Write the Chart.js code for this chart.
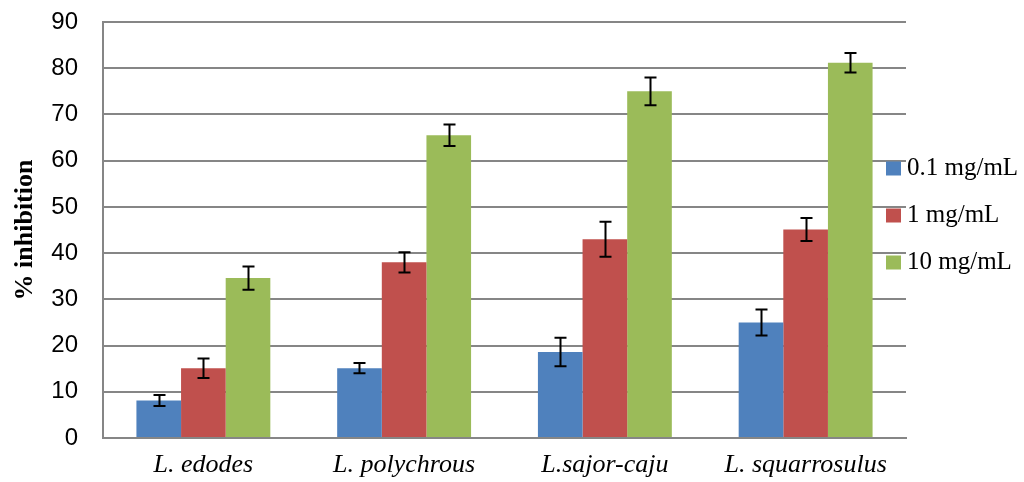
<!DOCTYPE html>
<html>
<head>
<meta charset="utf-8">
<script src="https://cdn.jsdelivr.net/npm/chart.js@4.4.1/dist/chart.umd.min.js"></script>
<style>
  html, body { margin: 0; padding: 0; background: #fff; }
  #wrap { width: 1024px; height: 482px; position: relative; }
</style>
</head>
<body>
<div id="wrap"><canvas id="c" width="1024" height="482"></canvas></div>
<script>
// Species tested
const categories = ['L. edodes', 'L. polychrous', 'L.sajor-caju', 'L. squarrosulus'];

// Mean % inhibition at each extract concentration
const series01 = [8.1, 15.1, 18.6, 25.0];
const series1  = [15.1, 38.0, 43.0, 45.1];
const series10 = [34.6, 65.5, 75.0, 81.2];

// Standard deviations (error bars)
const err01 = [1.2, 1.1, 3.1, 2.8];
const err1  = [2.1, 2.2, 3.8, 2.5];
const err10 = [2.5, 2.3, 3.0, 2.1];

const seriesLabels = ['0.1 mg/mL', '1 mg/mL', '10 mg/mL'];
const seriesColors = ['#4F81BD', '#C0504D', '#9BBB59'];
const yTicks = [0, 10, 20, 30, 40, 50, 60, 70, 80, 90];

const values = [series01, series1, series10];
const errors = [err01, err1, err10];

const GRID = '#868686';
const SERIF = "'Liberation Serif', 'Times New Roman', serif";
const SANS = "'Liberation Sans', Arial, sans-serif";

// Draws the ± error bar with caps on every bar
const errorBars = {
  id: 'errorBars',
  afterDatasetsDraw(chart) {
    const ctx = chart.ctx;
    const y = chart.scales.y;
    ctx.save();
    ctx.strokeStyle = '#000';
    ctx.lineWidth = 2;
    chart.data.datasets.forEach((ds, di) => {
      const meta = chart.getDatasetMeta(di);
      meta.data.forEach((bar, i) => {
        const v = ds.data[i], e = ds.errors[i];
        const yt = y.getPixelForValue(v + e);
        const yb = y.getPixelForValue(v - e);
        const x = Math.round(bar.x) + 0.5;
        const cap = 6;
        ctx.beginPath();
        ctx.moveTo(x, yt); ctx.lineTo(x, yb);
        ctx.moveTo(x - cap, yt); ctx.lineTo(x + cap, yt);
        ctx.moveTo(x - cap, yb); ctx.lineTo(x + cap, yb);
        ctx.stroke();
      });
    });
    ctx.restore();
  }
};

// Legend stacked on the right, beside the plot
const sideLegend = {
  id: 'sideLegend',
  afterDraw(chart) {
    const ctx = chart.ctx;
    const area = chart.chartArea;
    const x0 = area.right - 20;
    const rowY = [168.5, 215.5, 262.5];
    ctx.save();
    ctx.font = '25px ' + SERIF;
    ctx.textBaseline = 'middle';
    ctx.textAlign = 'left';
    chart.data.datasets.forEach((ds, i) => {
      const cy = rowY[i];
      ctx.fillStyle = ds.backgroundColor;
      ctx.fillRect(x0, cy - 7, 15, 14);
      ctx.fillStyle = '#000';
      ctx.fillText(ds.label, x0 + 21, cy);
    });
    ctx.restore();
  }
};

new Chart(document.getElementById('c'), {
  type: 'bar',
  data: {
    labels: categories,
    datasets: seriesLabels.map((label, i) => ({
      label: label,
      data: values[i],
      errors: errors[i],
      backgroundColor: seriesColors[i],
      borderWidth: 0,
      barPercentage: 1.0,
      categoryPercentage: 0.667
    }))
  },
  options: {
    responsive: false,
    animation: false,
    devicePixelRatio: 1,
    layout: { padding: { left: 0, right: 118, top: 22, bottom: 0 } },
    plugins: {
      legend: { display: false },
      tooltip: { enabled: false }
    },
    scales: {
      x: {
        grid: { display: false, drawTicks: false },
        border: { display: true, color: GRID, width: 2 },
        ticks: {
          color: '#000',
          padding: 12,
          font: { family: SERIF, size: 26, style: 'italic' },
          maxRotation: 0
        },
        afterFit(scale) { scale.height = 44; }
      },
      y: {
        min: 0,
        max: 90,
        afterBuildTicks(scale) { scale.ticks = yTicks.map(v => ({ value: v })); },
        grid: { color: GRID, lineWidth: 2, drawTicks: false },
        border: { display: true, color: GRID, width: 2 },
        ticks: {
          color: '#000',
          padding: 25,
          font: { family: SANS, size: 24 }
        },
        title: {
          display: true,
          text: '% inhibition',
          color: '#000',
          font: { family: SERIF, size: 26, weight: 'bold' },
          padding: { top: 10, bottom: 0 }
        },
        afterFit(scale) {
          scale.width = 103;
          scale.paddingTop = 0;
          scale.paddingBottom = 0;
        }
      }
    }
  },
  plugins: [errorBars, sideLegend]
});
</script>
</body>
</html>
